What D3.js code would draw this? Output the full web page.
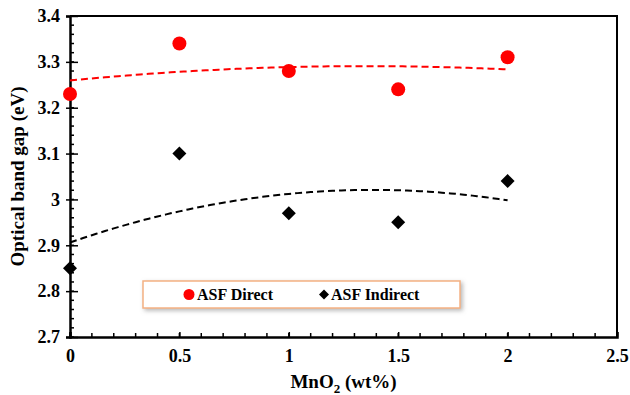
<!DOCTYPE html>
<html>
<head>
<meta charset="utf-8">
<script src="https://cdn.jsdelivr.net/npm/d3@7"></script>
<style>
  body { margin: 0; background: #fff; }
  text { font-family: "Liberation Serif", "Times New Roman", serif; font-weight: bold; }
</style>
</head>
<body>
<div id="chart"></div>
<script>
// data
const mno2 = [0, 0.5, 1, 1.5, 2];
const asfDirect = [3.23, 3.34, 3.28, 3.24, 3.31];
const asfIndirect = [2.85, 3.10, 2.97, 2.95, 3.04];
const xTicks = [0, 0.5, 1, 1.5, 2, 2.5];
const yTicks = [2.7, 2.8, 2.9, 3, 3.1, 3.2, 3.3, 3.4];

const width = 630;
const height = 395;
const margin = { top: 16, right: 13, bottom: 58, left: 70 };

const svg = d3.select("#chart")
  .append("svg")
  .attr("width", width)
  .attr("height", height);

const x = d3.scaleLinear()
  .domain([0, 2.5])
  .range([margin.left, width - margin.right]);

const y = d3.scaleLinear()
  .domain([2.7, 3.4])
  .range([height - margin.bottom, margin.top]);

// frame (top + right)
svg.append("path")
  .attr("d", `M${x(0)},${y(3.4)}H${x(2.5)}V${y(2.7)}`)
  .attr("fill", "none")
  .attr("stroke", "#000")
  .attr("stroke-width", 2);

// minor ticks, pointing inward
const xMinor = d3.range(0, 2.5001, 0.1);
const yMinor = d3.range(2.7, 3.4001, 0.02);

svg.append("g")
  .selectAll("line")
  .data(xMinor)
  .join("line")
  .attr("x1", d => x(d)).attr("x2", d => x(d))
  .attr("y1", y(2.7)).attr("y2", y(2.7) - 4)
  .attr("stroke", "#000").attr("stroke-width", 1.5);

svg.append("g")
  .selectAll("line")
  .data(yMinor)
  .join("line")
  .attr("x1", x(0)).attr("x2", x(0) + 4)
  .attr("y1", d => y(d)).attr("y2", d => y(d))
  .attr("stroke", "#000").attr("stroke-width", 1.5);

// axes
const xAxis = svg.append("g")
  .attr("transform", `translate(0,${y(2.7)})`)
  .call(d3.axisBottom(x).tickValues(xTicks).tickSize(-5).tickPadding(12).tickFormat(d3.format("")));

const yAxis = svg.append("g")
  .attr("transform", `translate(${x(0)},0)`)
  .call(d3.axisLeft(y).tickValues(yTicks).tickSize(4).tickPadding(6).tickFormat(d3.format("")));

[xAxis, yAxis].forEach(g => {
  g.select(".domain").attr("stroke-width", 2.5);
  g.selectAll(".tick line").attr("stroke-width", 1.5);
  g.selectAll(".tick text")
    .style("font-family", "'Liberation Serif', serif")
    .style("font-weight", "bold")
    .style("font-size", "18px")
    .attr("fill", "#000");
});
yAxis.selectAll(".tick line").attr("x2", 8).attr("x1", -4);

// axis titles
svg.append("text")
  .attr("transform", `translate(24,${(y(2.7) + y(3.4)) / 2}) rotate(-90)`)
  .attr("text-anchor", "middle")
  .style("font-size", "19px")
  .text("Optical band gap (eV)");

const xt = svg.append("text")
  .attr("x", (x(0) + x(2.5)) / 2)
  .attr("y", 388)
  .attr("text-anchor", "middle")
  .style("font-size", "19px");
xt.append("tspan").text("MnO");
xt.append("tspan").attr("dy", 5).style("font-size", "13px").text("2");
xt.append("tspan").attr("dy", -5).text(" (wt%)");

// second-order polynomial trendline (least squares, like Excel)
function polyFit2(xs, ys) {
  let s = [0, 0, 0, 0, 0], t = [0, 0, 0];
  xs.forEach((xi, i) => {
    for (let k = 0; k <= 4; k++) s[k] += Math.pow(xi, k);
    for (let k = 0; k <= 2; k++) t[k] += Math.pow(xi, k) * ys[i];
  });
  const A = [[s[0], s[1], s[2]], [s[1], s[2], s[3]], [s[2], s[3], s[4]]];
  const det = m => m[0][0] * (m[1][1] * m[2][2] - m[1][2] * m[2][1])
    - m[0][1] * (m[1][0] * m[2][2] - m[1][2] * m[2][0])
    + m[0][2] * (m[1][0] * m[2][1] - m[1][1] * m[2][0]);
  const D = det(A);
  const coef = [0, 1, 2].map(c => det(A.map((row, r) => row.map((v, j) => j === c ? t[r] : v))) / D);
  return xv => coef[0] + coef[1] * xv + coef[2] * xv * xv;
}

const fitX = d3.range(0, 2.0001, 0.02);
const line = d3.line().x(d => x(d[0])).y(d => y(d[1]));

[[asfDirect, "#ff0000"], [asfIndirect, "#000"]].forEach(([ys, color]) => {
  const f = polyFit2(mno2, ys);
  svg.append("path")
    .datum(fitX.map(v => [v, f(v)]))
    .attr("d", line)
    .attr("fill", "none")
    .attr("stroke", color)
    .attr("stroke-width", 2)
    .attr("stroke-dasharray", "7,4");
});

// points
const diamond = (cx, cy, r) => `M${cx},${cy - r}L${cx + r},${cy}L${cx},${cy + r}L${cx - r},${cy}Z`;

svg.append("g")
  .selectAll("circle")
  .data(mno2)
  .join("circle")
  .attr("cx", d => x(d))
  .attr("cy", (d, i) => y(asfDirect[i]))
  .attr("r", 7)
  .attr("fill", "#ff0000");

svg.append("g")
  .selectAll("path")
  .data(mno2)
  .join("path")
  .attr("d", (d, i) => diamond(x(d), y(asfIndirect[i]), 7))
  .attr("fill", "#000");

// legend
const defs = svg.append("defs");
defs.append("filter")
  .attr("id", "shadow")
  .attr("x", "-10%").attr("y", "-30%").attr("width", "120%").attr("height", "180%")
  .append("feDropShadow")
  .attr("dx", 2).attr("dy", 2).attr("stdDeviation", 2)
  .attr("flood-color", "#888").attr("flood-opacity", 0.6);

const lg = svg.append("g");
lg.append("rect")
  .attr("x", 143).attr("y", 281)
  .attr("width", 317).attr("height", 27)
  .attr("fill", "#fff")
  .attr("stroke", "#f4b183")
  .attr("stroke-width", 1.5)
  .attr("filter", "url(#shadow)");

lg.append("circle").attr("cx", 189).attr("cy", 294.5).attr("r", 5.5).attr("fill", "#ff0000");
lg.append("text").attr("x", 197).attr("y", 300).style("font-size", "16px").text("ASF Direct");
lg.append("path").attr("d", diamond(324, 294.5, 5)).attr("fill", "#000");
lg.append("text").attr("x", 331).attr("y", 300).style("font-size", "16px").text("ASF Indirect");
</script>
</body>
</html>
